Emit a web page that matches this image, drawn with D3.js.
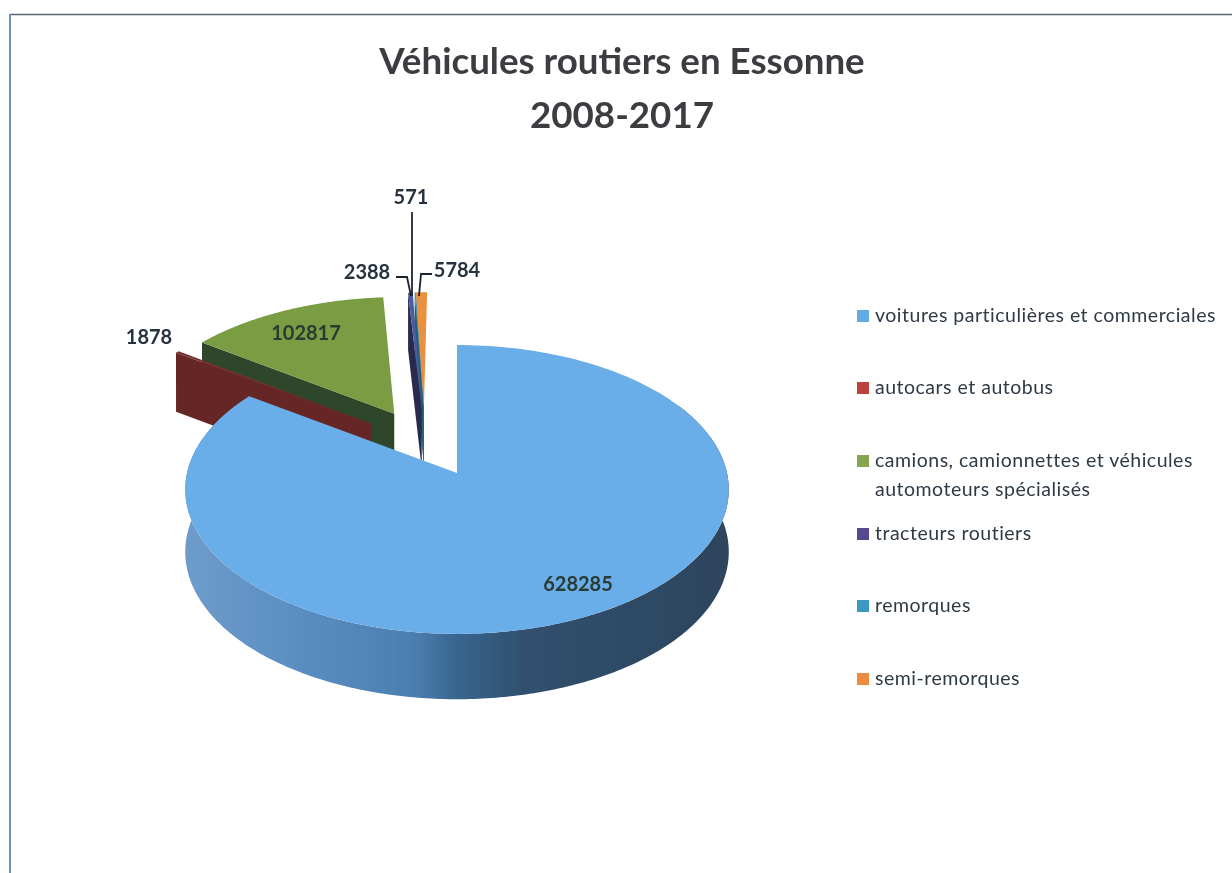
<!DOCTYPE html>
<html><head><meta charset="utf-8">
<style>html,body{margin:0;padding:0;background:#fff}svg{display:block}text{font-family:Lato,"Open Sans",sans-serif}</style>
<script src="https://cdn.jsdelivr.net/npm/d3@7"></script></head><body>
<script>
const titleLines = ["Véhicules routiers en Essonne", "2008-2017"];
const categories = ["voitures particulières et commerciales", "autocars et autobus", "camions, camionnettes et véhicules automoteurs spécialisés", "tracteurs routiers", "remorques", "semi-remorques"];
const legendLines = [["voitures particulières et commerciales"], ["autocars et autobus"], ["camions, camionnettes et véhicules", "automoteurs spécialisés"], ["tracteurs routiers"], ["remorques"], ["semi-remorques"]];
const values = [628285, 1878, 102817, 2388, 571, 5784];
const legendColors = ["#62abe4", "#bd433a", "#86a350", "#56488f", "#3a98c0", "#ec8a40"];
const topColors = ["#69ade9", "#74302e", "#7a9c43", "#4b5c9e", "#3a98c0", "#ea9140"];
const wallColors = [null, "#662826", "#2f4629", "#2b2b50", "#22607c", "#a8622a"];
// explosion of each slice: fraction of radius, direction in degrees clockwise from 12 o'clock (null = own mid-angle)
const explodeFraction = [0, 0.49, 0.5, 0.5, 0.5, 0.5];
const explodeDirection = [null, 317.4, null, 344, 345, 345];

const W = 1232, H = 873;
const svg = d3.select("body").append("svg").attr("width", W).attr("height", H);
const defs = svg.append("defs");
defs.append("filter").attr("id", "scan").attr("filterUnits", "userSpaceOnUse")
  .attr("x", 0).attr("y", 0).attr("width", W).attr("height", H)
  .append("feGaussianBlur").attr("stdDeviation", 0.45);
const root = svg.append("g").attr("filter", "url(#scan)");

// frame of the scanned sheet
root.append("line").attr("x1", 10).attr("x2", W).attr("y1", 14.5).attr("y2", 14.5).attr("stroke", "#5a6470").attr("stroke-width", 1.5);
root.append("line").attr("x1", 10).attr("x2", 10).attr("y1", 14).attr("y2", H).attr("stroke", "#7193b3").attr("stroke-width", 2);

// title
root.append("g").selectAll("text").data(titleLines).join("text")
  .attr("x", 622).attr("y", (d, i) => 74 + i * 53.5)
  .attr("text-anchor", "middle").attr("font-size", 36.7).attr("font-weight", 700).attr("fill", "#3b3d40")
  .text(d => d);

// pie geometry (a perspective view of a tilted disc)
const CX = 457, CY = 473, R = 270, K = 0.528, P = 0.114;
const project = (u, v, depth) => {
  const s = 1 / (1 - P * v);
  const y = CY + R * K * v * s;
  return [CX + R * u * s, y + (depth ? 62 + 3.3 * v : 0)];
};
const pie = d3.pie().sort(null).value(d => d)(values);
const offsetOf = (a, i) => {
  const dir = explodeDirection[i] === null ? (a.startAngle + a.endAngle) / 2 : explodeDirection[i] * Math.PI / 180;
  return [explodeFraction[i] * Math.sin(dir), -explodeFraction[i] * Math.cos(dir)];
};
const rim = (a, t, off) => [off[0] + Math.sin(t), off[1] - Math.cos(t)];
const line = d3.line();
const angles = (a, b, n) => d3.range(n + 1).map(k => d3.interpolateNumber(a, b)(k / n));

const pieG = root.append("g");
function topPath(a, off) {
  const pts = [project(off[0], off[1], false)];
  angles(a.startAngle, a.endAngle, 200).forEach(t => { const q = rim(a, t, off); pts.push(project(q[0], q[1], false)); });
  return line(pts) + "Z";
}
function sideWall(a, off) {
  const q = rim(a, a.startAngle, off);
  return line([project(off[0], off[1], false), project(q[0], q[1], false), project(q[0], q[1], true), project(off[0], off[1], true)]) + "Z";
}
// back to front
[2, 1, 5, 4, 3].forEach(i => {
  const a = pie[i], off = offsetOf(a, i);
  pieG.append("path").attr("d", sideWall(a, off)).attr("fill", wallColors[i]);
  pieG.append("path").attr("d", topPath(a, off)).attr("fill", topColors[i]);
});

// main slice: curved outer wall then top
const grad = defs.append("linearGradient").attr("id", "wall").attr("gradientUnits", "userSpaceOnUse")
  .attr("x1", 186).attr("x2", 729).attr("y1", 0).attr("y2", 0);
[[0, "#6e9cca"], [0.2, "#5b8ec2"], [0.42, "#4c7eb0"], [0.5, "#38658e"], [0.62, "#30506f"], [1, "#2e445c"]]
  .forEach(s => grad.append("stop").attr("offset", s[0]).attr("stop-color", s[1]));
const main = pie[0], off0 = [0, 0];
const wallAngles = angles(main.startAngle + Math.PI / 3, main.endAngle, 300);
const wallPts = wallAngles.map(t => { const q = rim(main, t, off0); return project(q[0], q[1], false); })
  .concat(wallAngles.slice().reverse().map(t => { const q = rim(main, t, off0); return project(q[0], q[1], true); }));
pieG.append("path").attr("d", line(wallPts) + "Z").attr("fill", "url(#wall)");
pieG.append("path").attr("d", topPath(main, off0)).attr("fill", topColors[0]);

// leader lines
const leaders = [[[412, 212], [412, 296]], [[396, 277], [407, 277], [411, 296]], [[432, 274], [421, 274], [419, 296]]];
root.append("g").selectAll("path").data(leaders).join("path")
  .attr("d", d => line(d)).attr("fill", "none").attr("stroke", "#1c2430").attr("stroke-width", 1.8);

// value labels
const labelPos = [[578, 591], [149, 344], [306, 340], [367, 279], null, [457, 277]];
const labelG = root.append("g");
values.forEach((v, i) => {
  const p = labelPos[i] || [411, 204];
  labelG.append("text").attr("x", p[0]).attr("y", p[1]).attr("text-anchor", "middle")
    .attr("font-size", 20).attr("font-weight", 700).attr("fill", i === 0 || i === 2 ? "#2b3a33" : "#283341").text(v);
});

// legend
const rowY = [316, 388, 461, 534, 606, 679];
const legend = root.append("g");
categories.forEach((c, i) => {
  legend.append("rect").attr("x", 857).attr("y", rowY[i] - 6).attr("width", 12).attr("height", 12).attr("fill", legendColors[i]);
  legendLines[i].forEach((t, j) => {
    legend.append("text").attr("x", 875).attr("y", rowY[i] + 6 + j * 29)
      .attr("font-size", 19.5).attr("letter-spacing", 0.5).attr("fill", "#2e3a45").text(t);
  });
});
</script></body></html>
